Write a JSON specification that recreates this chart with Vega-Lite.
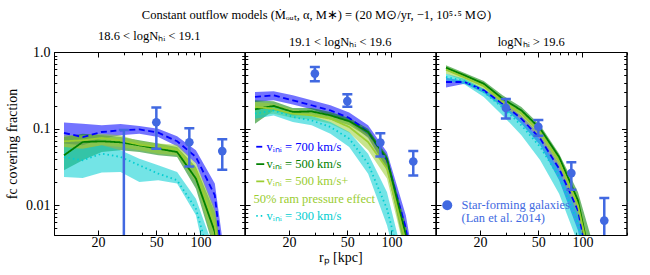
{
"$schema": "https://vega.github.io/schema/vega-lite/v6.json",
"padding": {"left": 5, "top": 8, "right": 5, "bottom": 3},
"config": {
  "font": "Liberation Serif",
  "view": {"stroke": "black", "strokeWidth": 1},
  "axis": {"grid": false, "domainColor": "black", "domainWidth": 1, "tickColor": "black", "tickWidth": 1, "labelColor": "black", "labelFontSize": 14, "labelFont": "Liberation Serif", "titleFont": "Liberation Serif", "titleFontSize": 14, "titleFontWeight": "normal", "titleColor": "black", "labelOverlap": false, "labelFlush": false, "minExtent": 0},
  "title": {"font": "Liberation Serif", "fontWeight": "normal", "color": "black"}
},
"title": {"text": "Constant outflow models (Ṁₒᵤₜ, α, M∗) = (20 M⊙/yr, −1, 10⁵·⁵ M⊙)", "fontSize": 12.5, "anchor": "middle", "offset": 8},
"datasets": {
 "models": [
  {"panel":1,"model":"700","rp":11.7,"fc":0.0878,"lo":0.0638,"hi":0.12},
  {"panel":1,"model":"700","rp":15.7,"fc":0.0778,"lo":0.0606,"hi":0.116},
  {"panel":1,"model":"700","rp":21.2,"fc":0.0905,"lo":0.0741,"hi":0.1105},
  {"panel":1,"model":"700","rp":28.5,"fc":0.0951,"lo":0.0818,"hi":0.115},
  {"panel":1,"model":"700","rp":38.3,"fc":0.098,"lo":0.0861,"hi":0.108},
  {"panel":1,"model":"700","rp":51.5,"fc":0.0887,"lo":0.0778,"hi":0.1},
  {"panel":1,"model":"700","rp":69.3,"fc":0.0684,"lo":0.0588,"hi":0.0794},
  {"panel":1,"model":"700","rp":93.2,"fc":0.0427,"lo":0.035,"hi":0.0522},
  {"panel":1,"model":"700","rp":125.4,"fc":0.0135,"lo":0.0082,"hi":0.0192},
  {"panel":1,"model":"700","rp":168.6,"fc":0.0001,"lo":0.00005,"hi":0.0003},
  {"panel":1,"model":"500","rp":11.7,"fc":0.0449,"lo":0.0286,"hi":0.0778},
  {"panel":1,"model":"500","rp":15.7,"fc":0.067,"lo":0.0386,"hi":0.0861},
  {"panel":1,"model":"500","rp":21.2,"fc":0.0684,"lo":0.0496,"hi":0.0818},
  {"panel":1,"model":"500","rp":28.5,"fc":0.0664,"lo":0.0522,"hi":0.0778},
  {"panel":1,"model":"500","rp":38.3,"fc":0.0606,"lo":0.0496,"hi":0.0705},
  {"panel":1,"model":"500","rp":51.5,"fc":0.0548,"lo":0.0449,"hi":0.0638},
  {"panel":1,"model":"500","rp":69.3,"fc":0.0496,"lo":0.0427,"hi":0.0576},
  {"panel":1,"model":"500","rp":93.2,"fc":0.0223,"lo":0.0165,"hi":0.0316},
  {"panel":1,"model":"500","rp":125.4,"fc":0.0045,"lo":0.0025,"hi":0.0082},
  {"panel":1,"model":"500","rp":168.6,"fc":0.0001,"lo":0.00005,"hi":0.0003},
  {"panel":1,"model":"500ram","rp":11.7,"fc":0.0684,"lo":0.0496,"hi":0.0818},
  {"panel":1,"model":"500ram","rp":15.7,"fc":0.0705,"lo":0.0548,"hi":0.0818},
  {"panel":1,"model":"500ram","rp":21.2,"fc":0.0756,"lo":0.0606,"hi":0.0861},
  {"panel":1,"model":"500ram","rp":28.5,"fc":0.0705,"lo":0.0576,"hi":0.0818},
  {"panel":1,"model":"500ram","rp":38.3,"fc":0.0618,"lo":0.0522,"hi":0.0684},
  {"panel":1,"model":"500ram","rp":51.5,"fc":0.0576,"lo":0.0472,"hi":0.0638},
  {"panel":1,"model":"500ram","rp":69.3,"fc":0.0538,"lo":0.0449,"hi":0.0618},
  {"panel":1,"model":"500ram","rp":93.2,"fc":0.0286,"lo":0.0202,"hi":0.035},
  {"panel":1,"model":"500ram","rp":125.4,"fc":0.0055,"lo":0.0027,"hi":0.009},
  {"panel":1,"model":"500ram","rp":168.6,"fc":0.0001,"lo":0.00005,"hi":0.0003},
  {"panel":1,"model":"300","rp":11.7,"fc":0.0427,"lo":0.0234,"hi":0.0576},
  {"panel":1,"model":"300","rp":15.7,"fc":0.0386,"lo":0.0227,"hi":0.0548},
  {"panel":1,"model":"300","rp":21.2,"fc":0.0472,"lo":0.0267,"hi":0.0606},
  {"panel":1,"model":"300","rp":28.5,"fc":0.0427,"lo":0.0272,"hi":0.0522},
  {"panel":1,"model":"300","rp":38.3,"fc":0.0333,"lo":0.0202,"hi":0.0406},
  {"panel":1,"model":"300","rp":51.5,"fc":0.0259,"lo":0.0212,"hi":0.0333},
  {"panel":1,"model":"300","rp":69.3,"fc":0.0212,"lo":0.0192,"hi":0.0272},
  {"panel":1,"model":"300","rp":93.2,"fc":0.009,"lo":0.0074,"hi":0.0122},
  {"panel":1,"model":"300","rp":125.4,"fc":0.0012,"lo":0.00055,"hi":0.0025},
  {"panel":2,"model":"700","rp":11.7,"fc":0.259,"lo":0.223,"hi":0.301},
  {"panel":2,"model":"700","rp":15.7,"fc":0.272,"lo":0.234,"hi":0.307},
  {"panel":2,"model":"700","rp":21.2,"fc":0.234,"lo":0.206,"hi":0.272},
  {"panel":2,"model":"700","rp":28.5,"fc":0.202,"lo":0.179,"hi":0.234},
  {"panel":2,"model":"700","rp":38.3,"fc":0.173,"lo":0.149,"hi":0.202},
  {"panel":2,"model":"700","rp":51.5,"fc":0.138,"lo":0.12,"hi":0.162},
  {"panel":2,"model":"700","rp":69.3,"fc":0.0905,"lo":0.0756,"hi":0.1105},
  {"panel":2,"model":"700","rp":93.2,"fc":0.0386,"lo":0.0286,"hi":0.0496},
  {"panel":2,"model":"700","rp":125.4,"fc":0.005,"lo":0.0027,"hi":0.0074},
  {"panel":2,"model":"700","rp":168.6,"fc":0.0001,"lo":0.00005,"hi":0.0003},
  {"panel":2,"model":"500","rp":11.7,"fc":0.179,"lo":0.116,"hi":0.234},
  {"panel":2,"model":"500","rp":15.7,"fc":0.198,"lo":0.173,"hi":0.227},
  {"panel":2,"model":"500","rp":21.2,"fc":0.165,"lo":0.149,"hi":0.186},
  {"panel":2,"model":"500","rp":28.5,"fc":0.168,"lo":0.152,"hi":0.186},
  {"panel":2,"model":"500","rp":38.3,"fc":0.149,"lo":0.132,"hi":0.165},
  {"panel":2,"model":"500","rp":51.5,"fc":0.125,"lo":0.1105,"hi":0.138},
  {"panel":2,"model":"500","rp":69.3,"fc":0.0905,"lo":0.0778,"hi":0.1},
  {"panel":2,"model":"500","rp":93.2,"fc":0.0406,"lo":0.0301,"hi":0.0449},
  {"panel":2,"model":"500","rp":125.4,"fc":0.0041,"lo":0.0022,"hi":0.0055},
  {"panel":2,"model":"500","rp":168.6,"fc":0.0001,"lo":0.00005,"hi":0.0003},
  {"panel":2,"model":"500ram","rp":11.7,"fc":0.192,"lo":0.149,"hi":0.223},
  {"panel":2,"model":"500ram","rp":15.7,"fc":0.182,"lo":0.157,"hi":0.212},
  {"panel":2,"model":"500ram","rp":21.2,"fc":0.157,"lo":0.138,"hi":0.179},
  {"panel":2,"model":"500ram","rp":28.5,"fc":0.149,"lo":0.132,"hi":0.168},
  {"panel":2,"model":"500ram","rp":38.3,"fc":0.135,"lo":0.116,"hi":0.152},
  {"panel":2,"model":"500ram","rp":51.5,"fc":0.105,"lo":0.0887,"hi":0.125},
  {"panel":2,"model":"500ram","rp":69.3,"fc":0.067,"lo":0.0522,"hi":0.0835},
  {"panel":2,"model":"500ram","rp":93.2,"fc":0.0301,"lo":0.0223,"hi":0.0386},
  {"panel":2,"model":"500ram","rp":125.4,"fc":0.0033,"lo":0.0022,"hi":0.005},
  {"panel":2,"model":"300","rp":11.7,"fc":0.157,"lo":0.135,"hi":0.182},
  {"panel":2,"model":"300","rp":15.7,"fc":0.173,"lo":0.149,"hi":0.192},
  {"panel":2,"model":"300","rp":21.2,"fc":0.142,"lo":0.122,"hi":0.162},
  {"panel":2,"model":"300","rp":28.5,"fc":0.128,"lo":0.1105,"hi":0.146},
  {"panel":2,"model":"300","rp":38.3,"fc":0.105,"lo":0.0861,"hi":0.122},
  {"panel":2,"model":"300","rp":51.5,"fc":0.0741,"lo":0.0576,"hi":0.0905},
  {"panel":2,"model":"300","rp":69.3,"fc":0.035,"lo":0.0259,"hi":0.0472},
  {"panel":2,"model":"300","rp":93.2,"fc":0.009,"lo":0.0055,"hi":0.0149},
  {"panel":2,"model":"300","rp":125.4,"fc":0.001,"lo":0.0006,"hi":0.0015},
  {"panel":3,"model":"700","rp":11.7,"fc":0.406,"lo":0.343,"hi":0.463},
  {"panel":3,"model":"700","rp":15.7,"fc":0.406,"lo":0.386,"hi":0.42},
  {"panel":3,"model":"700","rp":21.2,"fc":0.316,"lo":0.292,"hi":0.332},
  {"panel":3,"model":"700","rp":28.5,"fc":0.212,"lo":0.192,"hi":0.234},
  {"panel":3,"model":"700","rp":38.3,"fc":0.135,"lo":0.116,"hi":0.149},
  {"panel":3,"model":"700","rp":51.5,"fc":0.0741,"lo":0.0606,"hi":0.0844},
  {"panel":3,"model":"700","rp":69.3,"fc":0.0301,"lo":0.0212,"hi":0.035},
  {"panel":3,"model":"700","rp":93.2,"fc":0.0086,"lo":0.0047,"hi":0.0105},
  {"panel":3,"model":"700","rp":125.4,"fc":0.0005,"lo":0.0003,"hi":0.0008},
  {"panel":3,"model":"500","rp":11.7,"fc":0.624,"lo":0.576,"hi":0.67},
  {"panel":3,"model":"500","rp":15.7,"fc":0.496,"lo":0.463,"hi":0.532},
  {"panel":3,"model":"500","rp":21.2,"fc":0.386,"lo":0.357,"hi":0.418},
  {"panel":3,"model":"500","rp":28.5,"fc":0.246,"lo":0.223,"hi":0.272},
  {"panel":3,"model":"500","rp":38.3,"fc":0.173,"lo":0.157,"hi":0.192},
  {"panel":3,"model":"500","rp":51.5,"fc":0.1,"lo":0.0878,"hi":0.1105},
  {"panel":3,"model":"500","rp":69.3,"fc":0.0427,"lo":0.0368,"hi":0.0472},
  {"panel":3,"model":"500","rp":93.2,"fc":0.0116,"lo":0.0095,"hi":0.0149},
  {"panel":3,"model":"500","rp":125.4,"fc":0.00078,"lo":0.0005,"hi":0.0021},
  {"panel":3,"model":"500ram","rp":11.7,"fc":0.588,"lo":0.521,"hi":0.649},
  {"panel":3,"model":"500ram","rp":15.7,"fc":0.463,"lo":0.418,"hi":0.511},
  {"panel":3,"model":"500ram","rp":21.2,"fc":0.357,"lo":0.323,"hi":0.394},
  {"panel":3,"model":"500ram","rp":28.5,"fc":0.223,"lo":0.196,"hi":0.254},
  {"panel":3,"model":"500ram","rp":38.3,"fc":0.157,"lo":0.135,"hi":0.173},
  {"panel":3,"model":"500ram","rp":51.5,"fc":0.0878,"lo":0.0741,"hi":0.1},
  {"panel":3,"model":"500ram","rp":69.3,"fc":0.0368,"lo":0.0301,"hi":0.0427},
  {"panel":3,"model":"500ram","rp":93.2,"fc":0.01,"lo":0.007,"hi":0.0128},
  {"panel":3,"model":"500ram","rp":125.4,"fc":0.00078,"lo":0.0005,"hi":0.0013},
  {"panel":3,"model":"300","rp":11.7,"fc":0.472,"lo":0.427,"hi":0.521},
  {"panel":3,"model":"300","rp":15.7,"fc":0.418,"lo":0.378,"hi":0.449},
  {"panel":3,"model":"300","rp":21.2,"fc":0.301,"lo":0.259,"hi":0.332},
  {"panel":3,"model":"300","rp":28.5,"fc":0.188,"lo":0.149,"hi":0.212},
  {"panel":3,"model":"300","rp":38.3,"fc":0.1105,"lo":0.0818,"hi":0.128},
  {"panel":3,"model":"300","rp":51.5,"fc":0.0576,"lo":0.0386,"hi":0.0705},
  {"panel":3,"model":"300","rp":69.3,"fc":0.0234,"lo":0.0142,"hi":0.0286},
  {"panel":3,"model":"300","rp":93.2,"fc":0.0058,"lo":0.0032,"hi":0.0078},
  {"panel":3,"model":"300","rp":125.4,"fc":0.0003,"lo":0.0002,"hi":0.0005}
 ],
 "obs": [
  {"panel":1,"rp":30,"fc":0.002,"lo":0.0001,"hi":0.096,"source":"Star-forming galaxies"},
  {"panel":1,"rp":50,"fc":0.121,"lo":0.0545,"hi":0.189,"source":"Star-forming galaxies"},
  {"panel":1,"rp":84,"fc":0.0664,"lo":0.032,"hi":0.101,"source":"Star-forming galaxies"},
  {"panel":1,"rp":141,"fc":0.051,"lo":0.029,"hi":0.0727,"source":"Star-forming galaxies"},
  {"panel":2,"rp":30,"fc":0.523,"lo":0.416,"hi":0.639,"source":"Star-forming galaxies"},
  {"panel":2,"rp":50,"fc":0.229,"lo":0.193,"hi":0.282,"source":"Star-forming galaxies"},
  {"panel":2,"rp":84,"fc":0.0658,"lo":0.0433,"hi":0.0869,"source":"Star-forming galaxies"},
  {"panel":2,"rp":141,"fc":0.0373,"lo":0.0245,"hi":0.0513,"source":"Star-forming galaxies"},
  {"panel":3,"rp":30,"fc":0.187,"lo":0.136,"hi":0.243,"source":"Star-forming galaxies"},
  {"panel":3,"rp":50,"fc":0.106,"lo":0.081,"hi":0.13,"source":"Star-forming galaxies"},
  {"panel":3,"rp":84,"fc":0.0263,"lo":0.016,"hi":0.0365,"source":"Star-forming galaxies"},
  {"panel":3,"rp":141,"fc":0.00632,"lo":0.0001,"hi":0.01245,"source":"Star-forming galaxies"}
 ]
},
"spacing": 0,
"bounds": "flush",
"resolve": {"scale": {"fill": "independent", "stroke": "independent", "strokeDash": "independent", "shape": "independent"}},
"hconcat": [
 {
  "width": 190.5, "height": 183,
  "title": {"text": "18.6 < logNₕᵢ < 19.1", "fontSize": 12.5, "offset": 3},
  "resolve": {"axis": {"x": "independent", "y": "independent"}},
  "layer": [
   {"data": {"name": "models"}, "transform": [{"filter": "datum.panel == 1"}],
    "mark": {"type": "area", "clip": true, "opacity": 0.55},
    "encoding": {
     "x": {"field": "rp", "type": "quantitative", "scale": {"type": "log", "domain": [10, 200], "nice": false},
       "axis": {"orient": "bottom", "values": [20,30,40,50,60,70,80,90,100,200], "format": "d", "labelExpr": "datum.value == 20 || datum.value == 50 || datum.value == 100 ? datum.label : ''", "tickSize": {"condition": {"test": "datum.value == 20 || datum.value == 50 || datum.value == 100", "value": -5}, "value": -2.8}, "labelPadding": 5, "title": null}},
     "y": {"field": "hi", "type": "quantitative", "scale": {"type": "log", "domain": [0.0041, 1], "nice": false},
       "axis": {"orient": "left", "values": [0.005,0.006,0.007,0.008,0.009,0.01,0.02,0.03,0.04,0.05,0.06,0.07,0.08,0.09,0.1,0.2,0.3,0.4,0.5,0.6,0.7,0.8,0.9,1], "labelExpr": "datum.value == 1 ? '1.0' : datum.value == 0.1 ? '0.1' : datum.value == 0.01 ? '0.01' : ''", "tickSize": {"condition": {"test": "datum.value == 0.01 || datum.value == 0.1 || datum.value == 1", "value": -5}, "value": -2.8}, "labelPadding": 9, "title": "fc covering fraction", "titlePadding": 6}},
     "y2": {"field": "lo"},
     "fill": {"field": "model", "type": "nominal", "scale": {"domain": ["700","500","500ram","300"], "range": ["#0000ff","#008000","#9acd32","#00ced1"]}, "legend": null}
    }},
   {"data": {"name": "models"}, "transform": [{"filter": "datum.panel == 1"}],
    "mark": {"type": "line", "clip": true, "strokeWidth": 1.8},
    "encoding": {
     "x": {"field": "rp", "type": "quantitative", "axis": {"orient": "top", "values": [20,30,40,50,60,70,80,90,100,200], "labels": false, "tickSize": {"condition": {"test": "datum.value == 20 || datum.value == 50 || datum.value == 100", "value": -5}, "value": -2.8}, "title": null}},
     "y": {"field": "fc", "type": "quantitative", "axis": {"orient": "right", "values": [0.005,0.006,0.007,0.008,0.009,0.01,0.02,0.03,0.04,0.05,0.06,0.07,0.08,0.09,0.1,0.2,0.3,0.4,0.5,0.6,0.7,0.8,0.9,1], "labels": false, "tickSize": {"condition": {"test": "datum.value == 0.01 || datum.value == 0.1 || datum.value == 1", "value": -5}, "value": -2.8}, "title": null}},
     "stroke": {"field": "model", "type": "nominal", "scale": {"domain": ["700","500","500ram","ram","300"], "range": ["#0000ff","#008000","#9acd32","rgba(0,0,0,0)","#00ced1"]}, "legend": null},
     "strokeDash": {"field": "model", "type": "nominal", "scale": {"domain": ["700","500","500ram","ram","300"], "range": [[6,3.5],[1,0],[1,0],[1,0],[1.5,3]]}, "legend": null}
    }},
   {"data": {"name": "obs"}, "transform": [{"filter": "datum.panel == 1"}],
    "mark": {"type": "rule", "clip": true, "color": "#4169e1", "strokeWidth": 2.5},
    "encoding": {"x": {"field": "rp", "type": "quantitative", "axis": null}, "y": {"field": "lo", "type": "quantitative", "axis": null}, "y2": {"field": "hi"}}},
   {"data": {"name": "obs"}, "transform": [{"filter": "datum.panel == 1"}],
    "mark": {"type": "tick", "clip": true, "color": "#4169e1", "orient": "horizontal", "size": 10, "thickness": 2.5, "opacity": 1},
    "encoding": {"x": {"field": "rp", "type": "quantitative", "axis": null}, "y": {"field": "hi", "type": "quantitative", "axis": null}}},
   {"data": {"name": "obs"}, "transform": [{"filter": "datum.panel == 1"}],
    "mark": {"type": "tick", "clip": true, "color": "#4169e1", "orient": "horizontal", "size": 10, "thickness": 2.5, "opacity": 1},
    "encoding": {"x": {"field": "rp", "type": "quantitative", "axis": null}, "y": {"field": "lo", "type": "quantitative", "axis": null}}},
   {"data": {"name": "obs"}, "transform": [{"filter": "datum.panel == 1"}],
    "mark": {"type": "point", "clip": true, "filled": true, "color": "#4169e1", "opacity": 1, "size": 75, "shape": "circle"},
    "encoding": {"x": {"field": "rp", "type": "quantitative", "axis": null}, "y": {"field": "fc", "type": "quantitative", "axis": null}}}
  ]
 },
 {
  "width": 190.5, "height": 183,
  "title": {"text": "19.1 < logNₕᵢ < 19.6", "fontSize": 12.5, "offset": 3},
  "resolve": {"axis": {"x": "independent", "y": "independent"}},
  "layer": [
   {"data": {"name": "models"}, "transform": [{"filter": "datum.panel == 2"}],
    "mark": {"type": "area", "clip": true, "opacity": 0.55},
    "encoding": {
     "x": {"field": "rp", "type": "quantitative", "scale": {"type": "log", "domain": [10, 200], "nice": false},
       "axis": {"orient": "bottom", "values": [20,30,40,50,60,70,80,90,100,200], "format": "d", "labelExpr": "datum.value == 20 || datum.value == 50 || datum.value == 100 ? datum.label : ''", "tickSize": {"condition": {"test": "datum.value == 20 || datum.value == 50 || datum.value == 100", "value": -5}, "value": -2.8}, "labelPadding": 5, "title": "rₚ [kpc]", "titlePadding": -1}},
     "y": {"field": "hi", "type": "quantitative", "scale": {"type": "log", "domain": [0.0041, 1], "nice": false},
       "axis": {"orient": "left", "values": [0.005,0.006,0.007,0.008,0.009,0.01,0.02,0.03,0.04,0.05,0.06,0.07,0.08,0.09,0.1,0.2,0.3,0.4,0.5,0.6,0.7,0.8,0.9,1], "labels": false, "tickSize": {"condition": {"test": "datum.value == 0.01 || datum.value == 0.1 || datum.value == 1", "value": -5}, "value": -2.8}, "title": null}},
     "y2": {"field": "lo"},
     "fill": {"field": "model", "type": "nominal", "scale": {"domain": ["700","500","500ram","300"], "range": ["#0000ff","#008000","#9acd32","#00ced1"]}, "legend": null}
    }},
   {"data": {"name": "models"}, "transform": [{"filter": "datum.panel == 2"}],
    "mark": {"type": "line", "clip": true, "strokeWidth": 1.8},
    "encoding": {
     "x": {"field": "rp", "type": "quantitative", "axis": {"orient": "top", "values": [20,30,40,50,60,70,80,90,100,200], "labels": false, "tickSize": {"condition": {"test": "datum.value == 20 || datum.value == 50 || datum.value == 100", "value": -5}, "value": -2.8}, "title": null}},
     "y": {"field": "fc", "type": "quantitative", "axis": {"orient": "right", "values": [0.005,0.006,0.007,0.008,0.009,0.01,0.02,0.03,0.04,0.05,0.06,0.07,0.08,0.09,0.1,0.2,0.3,0.4,0.5,0.6,0.7,0.8,0.9,1], "labels": false, "tickSize": {"condition": {"test": "datum.value == 0.01 || datum.value == 0.1 || datum.value == 1", "value": -5}, "value": -2.8}, "title": null}},
     "stroke": {"field": "model", "type": "nominal", "scale": {"domain": ["700","500","500ram","ram","300"], "range": ["#0000ff","#008000","#9acd32","rgba(0,0,0,0)","#00ced1"]},
       "legend": {"orient": "none", "legendX": 9, "legendY": 88.5, "title": null, "padding": 0, "symbolType": "stroke", "symbolSize": 64, "symbolStrokeWidth": 1.8, "labelFontSize": 12.5, "labelOffset": 0, "rowPadding": 4.3, "labelLimit": 300,
         "labelExpr": "datum.value == '700' ? 'vᵢₙᵢ = 700 km/s' : datum.value == '500' ? 'vᵢₙᵢ = 500 km/s' : datum.value == '500ram' ? 'vᵢₙᵢ = 500 km/s+' : datum.value == 'ram' ? '50% ram pressure effect' : 'vᵢₙᵢ = 300 km/s'",
         "encode": {"labels": {"update": {"fill": [{"test": "datum.value == '700'", "value": "#0000ff"}, {"test": "datum.value == '500'", "value": "#008000"}, {"test": "datum.value == '300'", "value": "#00ced1"}, {"value": "#9acd32"}], "dx": [{"test": "datum.value == 'ram'", "value": -13}, {"value": 0}]}}}}},
     "strokeDash": {"field": "model", "type": "nominal", "scale": {"domain": ["700","500","500ram","ram","300"], "range": [[6,3.5],[1,0],[1,0],[1,0],[1.5,3]]}}
    }},
   {"data": {"name": "obs"}, "transform": [{"filter": "datum.panel == 2"}],
    "mark": {"type": "rule", "clip": true, "color": "#4169e1", "strokeWidth": 2.5},
    "encoding": {"x": {"field": "rp", "type": "quantitative", "axis": null}, "y": {"field": "lo", "type": "quantitative", "axis": null}, "y2": {"field": "hi"}}},
   {"data": {"name": "obs"}, "transform": [{"filter": "datum.panel == 2"}],
    "mark": {"type": "tick", "clip": true, "color": "#4169e1", "orient": "horizontal", "size": 10, "thickness": 2.5, "opacity": 1},
    "encoding": {"x": {"field": "rp", "type": "quantitative", "axis": null}, "y": {"field": "hi", "type": "quantitative", "axis": null}}},
   {"data": {"name": "obs"}, "transform": [{"filter": "datum.panel == 2"}],
    "mark": {"type": "tick", "clip": true, "color": "#4169e1", "orient": "horizontal", "size": 10, "thickness": 2.5, "opacity": 1},
    "encoding": {"x": {"field": "rp", "type": "quantitative", "axis": null}, "y": {"field": "lo", "type": "quantitative", "axis": null}}},
   {"data": {"name": "obs"}, "transform": [{"filter": "datum.panel == 2"}],
    "mark": {"type": "point", "clip": true, "filled": true, "color": "#4169e1", "opacity": 1, "size": 75, "shape": "circle"},
    "encoding": {"x": {"field": "rp", "type": "quantitative", "axis": null}, "y": {"field": "fc", "type": "quantitative", "axis": null}}}
  ]
 },
 {
  "width": 190.5, "height": 183,
  "title": {"text": "logNₕᵢ > 19.6", "fontSize": 12.5, "offset": 3},
  "resolve": {"axis": {"x": "independent", "y": "independent"}},
  "layer": [
   {"data": {"name": "models"}, "transform": [{"filter": "datum.panel == 3"}],
    "mark": {"type": "area", "clip": true, "opacity": 0.55},
    "encoding": {
     "x": {"field": "rp", "type": "quantitative", "scale": {"type": "log", "domain": [10, 200], "nice": false},
       "axis": {"orient": "bottom", "values": [20,30,40,50,60,70,80,90,100,200], "format": "d", "labelExpr": "datum.value == 20 || datum.value == 50 || datum.value == 100 ? datum.label : ''", "tickSize": {"condition": {"test": "datum.value == 20 || datum.value == 50 || datum.value == 100", "value": -5}, "value": -2.8}, "labelPadding": 5, "title": null}},
     "y": {"field": "hi", "type": "quantitative", "scale": {"type": "log", "domain": [0.0041, 1], "nice": false},
       "axis": {"orient": "left", "values": [0.005,0.006,0.007,0.008,0.009,0.01,0.02,0.03,0.04,0.05,0.06,0.07,0.08,0.09,0.1,0.2,0.3,0.4,0.5,0.6,0.7,0.8,0.9,1], "labels": false, "tickSize": {"condition": {"test": "datum.value == 0.01 || datum.value == 0.1 || datum.value == 1", "value": -5}, "value": -2.8}, "title": null}},
     "y2": {"field": "lo"},
     "fill": {"field": "model", "type": "nominal", "scale": {"domain": ["700","500","500ram","300"], "range": ["#0000ff","#008000","#9acd32","#00ced1"]}, "legend": null}
    }},
   {"data": {"name": "models"}, "transform": [{"filter": "datum.panel == 3"}],
    "mark": {"type": "line", "clip": true, "strokeWidth": 1.8},
    "encoding": {
     "x": {"field": "rp", "type": "quantitative", "axis": {"orient": "top", "values": [20,30,40,50,60,70,80,90,100,200], "labels": false, "tickSize": {"condition": {"test": "datum.value == 20 || datum.value == 50 || datum.value == 100", "value": -5}, "value": -2.8}, "title": null}},
     "y": {"field": "fc", "type": "quantitative", "axis": {"orient": "right", "values": [0.005,0.006,0.007,0.008,0.009,0.01,0.02,0.03,0.04,0.05,0.06,0.07,0.08,0.09,0.1,0.2,0.3,0.4,0.5,0.6,0.7,0.8,0.9,1], "labels": false, "tickSize": {"condition": {"test": "datum.value == 0.01 || datum.value == 0.1 || datum.value == 1", "value": -5}, "value": -2.8}, "title": null}},
     "stroke": {"field": "model", "type": "nominal", "scale": {"domain": ["700","500","500ram","ram","300"], "range": ["#0000ff","#008000","#9acd32","rgba(0,0,0,0)","#00ced1"]}, "legend": null},
     "strokeDash": {"field": "model", "type": "nominal", "scale": {"domain": ["700","500","500ram","ram","300"], "range": [[6,3.5],[1,0],[1,0],[1,0],[1.5,3]]}, "legend": null}
    }},
   {"data": {"name": "obs"}, "transform": [{"filter": "datum.panel == 3"}],
    "mark": {"type": "rule", "clip": true, "color": "#4169e1", "strokeWidth": 2.5},
    "encoding": {"x": {"field": "rp", "type": "quantitative", "axis": null}, "y": {"field": "lo", "type": "quantitative", "axis": null}, "y2": {"field": "hi"}}},
   {"data": {"name": "obs"}, "transform": [{"filter": "datum.panel == 3"}],
    "mark": {"type": "tick", "clip": true, "color": "#4169e1", "orient": "horizontal", "size": 10, "thickness": 2.5, "opacity": 1},
    "encoding": {"x": {"field": "rp", "type": "quantitative", "axis": null}, "y": {"field": "hi", "type": "quantitative", "axis": null}}},
   {"data": {"name": "obs"}, "transform": [{"filter": "datum.panel == 3"}],
    "mark": {"type": "tick", "clip": true, "color": "#4169e1", "orient": "horizontal", "size": 10, "thickness": 2.5, "opacity": 1},
    "encoding": {"x": {"field": "rp", "type": "quantitative", "axis": null}, "y": {"field": "lo", "type": "quantitative", "axis": null}}},
   {"data": {"name": "obs"}, "transform": [{"filter": "datum.panel == 3"}],
    "mark": {"type": "point", "clip": true, "filled": true, "color": "#4169e1", "opacity": 1, "size": 75},
    "encoding": {"x": {"field": "rp", "type": "quantitative", "axis": null}, "y": {"field": "fc", "type": "quantitative", "axis": null},
     "shape": {"field": "source", "type": "nominal", "scale": {"domain": ["Star-forming galaxies", "(Lan et al. 2014)"], "range": ["circle", "M0,0"]},
       "legend": {"orient": "none", "legendX": 5, "legendY": 147, "title": null, "padding": 0, "symbolSize": 100, "labelFontSize": 12.5, "labelColor": "#4169e1", "labelOffset": 8, "rowPadding": -0.5, "labelLimit": 300, "symbolFillColor": "#4169e1", "symbolStrokeWidth": 0,
         "encode": {"symbols": {"update": {"shape": [{"test": "datum.value == 'Star-forming galaxies'", "value": "M-0.95,1.2A0.95,0.95 0 1,1 0.95,1.2A0.95,0.95 0 1,1 -0.95,1.2ZM-0.22,-0.3H0.22V2.7H-0.22ZM-0.8,-0.3H0.8V0.1H-0.8ZM-0.8,2.3H0.8V2.7H-0.8Z"}, {"value": "M0,0"}], "fill": {"value": "#4169e1"}, "opacity": {"value": 1}}}}}}
    }}
  ]
 }
]
}
